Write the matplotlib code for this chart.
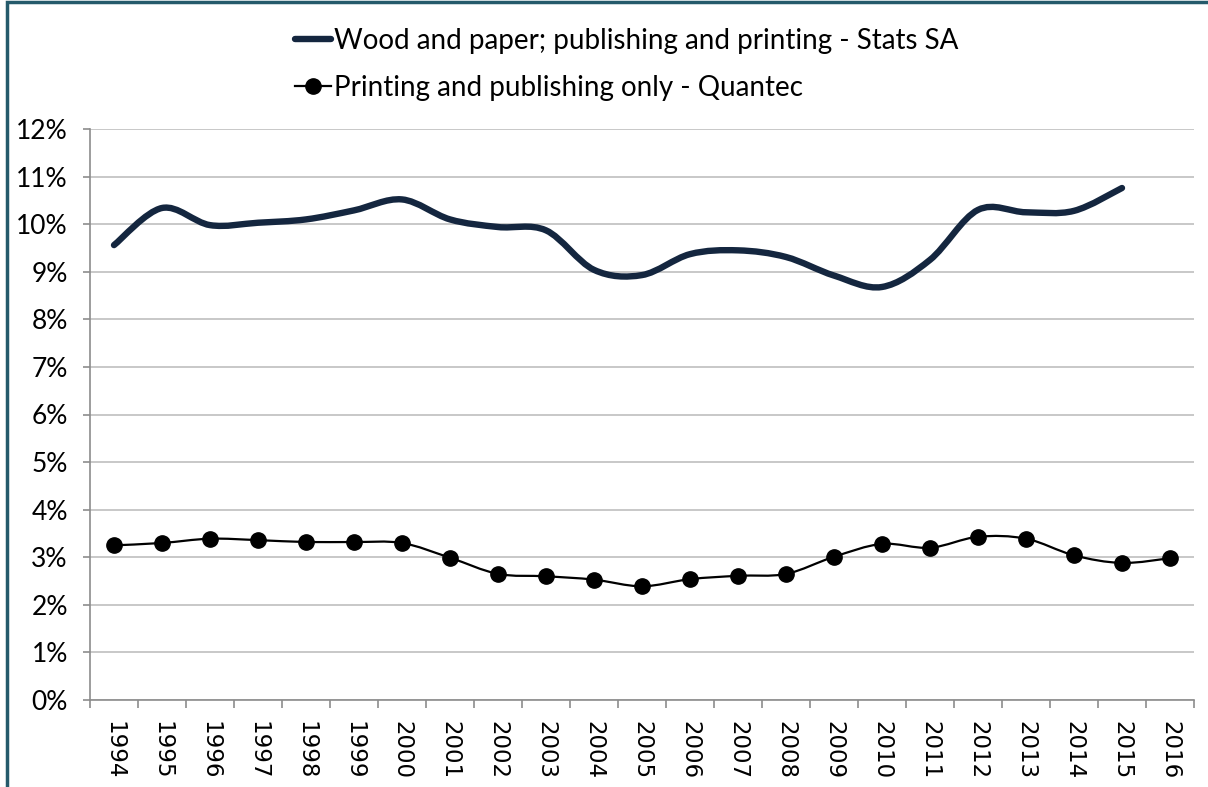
import matplotlib
matplotlib.use('Agg')
import matplotlib.pyplot as plt
from matplotlib.lines import Line2D
from matplotlib.patches import PathPatch, Rectangle
from matplotlib.path import Path
from matplotlib.ticker import FixedLocator, FuncFormatter

YEARS = [str(y) for y in range(1994, 2017)]

# share of output (%)
STATS_SA = [9.56, 10.34, 9.98, 10.03, 10.10, 10.29, 10.52, 10.10, 9.94, 9.87, 9.04,
            8.93, 9.37, 9.45, 9.31, 8.92, 8.68, 9.25, 10.30, 10.25, 10.28, 10.76]
QUANTEC = [3.25, 3.30, 3.39, 3.36, 3.32, 3.32, 3.30, 2.99, 2.65, 2.60, 2.53, 2.39,
           2.54, 2.61, 2.65, 3.01, 3.28, 3.20, 3.43, 3.39, 3.04, 2.88, 2.98]

LABELS = ['Wood and paper; publishing and printing - Stats SA',
          'Printing and publishing only - Quantec']

NAVY = '#14263f'
GRID = '#c4c4c4'
AXIS = '#8c8c8c'
FRAME = '#255a6b'


def smooth_path(xs, ys):
    # Excel-style smoothed line: cubic bezier through every point
    pts = list(zip(xs, ys))
    verts = [pts[0]]
    codes = [Path.MOVETO]
    n = len(pts)
    for i in range(n - 1):
        p0 = pts[i - 1] if i > 0 else pts[i]
        p1 = pts[i]
        p2 = pts[i + 1]
        p3 = pts[i + 2] if i + 2 < n else pts[i + 1]
        c1 = (p1[0] + (p2[0] - p0[0]) / 6, p1[1] + (p2[1] - p0[1]) / 6)
        c2 = (p2[0] - (p3[0] - p1[0]) / 6, p2[1] - (p3[1] - p1[1]) / 6)
        verts += [c1, c2, p2]
        codes += [Path.CURVE4] * 3
    return Path(verts, codes)


def main():
    plt.rcParams['font.family'] = ['Lato', 'DejaVu Sans']
    fig = plt.figure(figsize=(12.08, 7.87), dpi=100)
    ax = fig.add_axes([90 / 1208, 87 / 787, 1104 / 1208, 571 / 787])

    x_sa = list(range(len(STATS_SA)))
    x_q = list(range(len(QUANTEC)))

    ax.add_patch(PathPatch(smooth_path(x_sa, STATS_SA), fill=False, edgecolor=NAVY,
                           linewidth=4.6, capstyle='round', joinstyle='round', zorder=3))
    ax.add_patch(PathPatch(smooth_path(x_q, QUANTEC), fill=False, edgecolor='black',
                           linewidth=1.6, zorder=3))
    ax.plot(x_q, QUANTEC, linestyle='none', marker='o', markersize=11,
            color='black', zorder=4)

    ax.set_xlim(-0.5, len(YEARS) - 0.5)
    ax.set_ylim(0, 12)

    ax.set_yticks(range(0, 13))
    ax.yaxis.set_major_formatter(FuncFormatter(lambda v, p: f'{v:.0f}%'))
    ax.grid(axis='y', color=GRID, linewidth=1.3)
    ax.set_axisbelow(True)

    ax.set_xticks(range(len(YEARS)))
    ax.set_xticklabels(YEARS, rotation=-90, fontsize=16.5, family='DejaVu Sans')
    ax.xaxis.set_minor_locator(FixedLocator([i - 0.5 for i in range(len(YEARS) + 1)]))
    ax.tick_params(axis='x', which='major', length=0, pad=15)
    ax.tick_params(axis='x', which='minor', length=6, color=AXIS, width=1.2)
    ax.tick_params(axis='y', length=5, color=AXIS, width=1.2, pad=11, labelsize=19)

    for side in ['top', 'right']:
        ax.spines[side].set_visible(False)
    for side in ['left', 'bottom']:
        ax.spines[side].set_color(AXIS)
        ax.spines[side].set_linewidth(1.2)

    handles = [Line2D([], [], color=NAVY, linewidth=4.6, solid_capstyle='round'),
               Line2D([], [], color='black', linewidth=1.6, marker='o', markersize=11)]
    fig.legend(handles, LABELS, loc='upper left', bbox_to_anchor=(284 / 1208, 1 - 17 / 787),
               frameon=False, fontsize=20, handlelength=1.3, handletextpad=0.1,
               labelspacing=0.75, borderaxespad=0)

    # outer chart frame, only top and left edges show in the crop
    fig.add_artist(Rectangle((7 / 1208, -0.1), 1.2, 1 - 2 / 787 + 0.1,
                             transform=fig.transFigure, fill=False,
                             edgecolor=FRAME, linewidth=2.5))

    fig.savefig('out.png', dpi=100)


if __name__ == '__main__':
    main()
